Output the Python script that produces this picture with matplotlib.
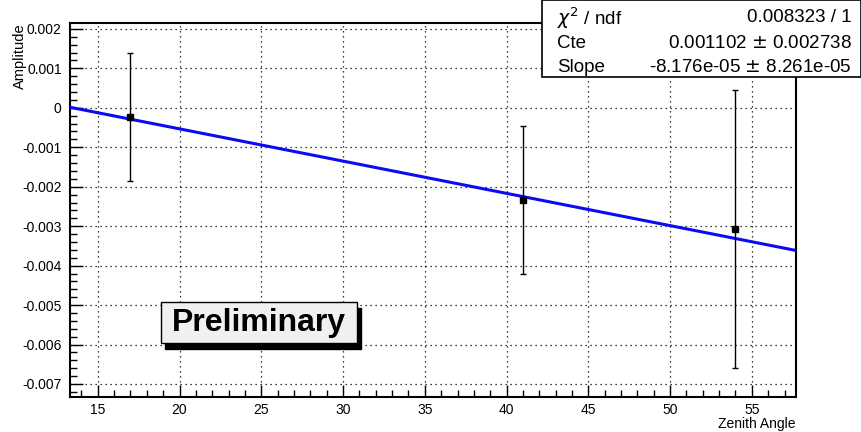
import numpy as np
import matplotlib.pyplot as plt
from matplotlib.patches import Rectangle
from matplotlib.ticker import MultipleLocator, FuncFormatter

plt.rcParams['font.family'] = ['Liberation Sans', 'DejaVu Sans']

# measured points
zenith = [17, 41, 54]
amplitude = [-0.00024, -0.00234, -0.00307]
amp_err = [0.00162, 0.00188, 0.00352]

# fit results
cte = 0.001102
cte_err = 0.002738
slope = -8.176e-05
slope_err = 8.261e-05
chi2 = 0.008323
ndf = 1

xmin, xmax = 13.3, 57.7

fig = plt.figure(figsize=(8.61, 4.32), dpi=100)
ax = fig.add_axes([70/861, 1-397/432, 726/861, 374/432])

xs = np.array([xmin, xmax])
ax.plot(xs, cte + slope*xs, color='#0a0af5', lw=2.2, zorder=3)
ax.errorbar(zenith, amplitude, yerr=amp_err, fmt='s', color='black', ms=4,
            elinewidth=1, capsize=2, capthick=1, zorder=4)

ax.set_xlim(xmin, xmax)
ax.set_ylim(-0.00733, 0.00215)
ax.xaxis.set_major_locator(MultipleLocator(5))
ax.xaxis.set_minor_locator(MultipleLocator(1))
ax.yaxis.set_major_locator(MultipleLocator(0.001))
ax.yaxis.set_minor_locator(MultipleLocator(0.0002))
ax.yaxis.set_major_formatter(FuncFormatter(lambda v, p: '0' if abs(v) < 1e-9 else '%g' % v))
ax.tick_params(which='both', direction='in', labelsize=10, top=False, right=False)
ax.tick_params(which='major', length=9, width=1)
ax.tick_params(which='minor', length=5, width=1)
ax.tick_params(axis='y', pad=6)
ax.tick_params(axis='x', pad=4)
ax.grid(True, which='major', color='black', linestyle=(0, (1, 3)), lw=0.9)
for s in ax.spines.values():
    s.set_linewidth(1.5)

fig.text(796/861, 1-428/432, 'Zenith Angle', ha='right', va='baseline', fontsize=10)
fig.text(20/861, 1-23/432, 'Amplitude', ha='center', va='top', rotation=90, fontsize=10.5)

# stats box
fig.patches.append(Rectangle((542/861, 1-77/432), 319/861, 77/432, transform=fig.transFigure,
                             facecolor='white', edgecolor='black', lw=1.2, zorder=5))
rows = [(r'$\chi^2$ / ndf', '%g / %d' % (chi2, ndf)),
        ('Cte', '%.6f $\\pm$ %.6f' % (cte, cte_err)),
        ('Slope', '%.3e $\\pm$ %.3e' % (slope, slope_err))]
ys = [18, 43, 67]
for (lab, val), yp in zip(rows, ys):
    fig.text(557/861, 1-yp/432, lab, ha='left', va='center', fontsize=13.5, zorder=6,
             math_fontfamily='dejavusans')
    fig.text(852/861, 1-yp/432, val, ha='right', va='center', fontsize=13.5, zorder=6,
             math_fontfamily='dejavusans')

# Preliminary label
fig.patches.append(Rectangle((165/861, 1-349/432), 196/861, 41/432, transform=fig.transFigure,
                             facecolor='black', edgecolor='black', zorder=5))
fig.patches.append(Rectangle((161/861, 1-343/432), 196/861, 41/432, transform=fig.transFigure,
                             facecolor='#f0f0f0', edgecolor='black', lw=1, zorder=6))
fig.text(259/861, 1-323/432, 'Preliminary', ha='center', va='center', fontsize=23,
         fontweight='bold', zorder=7)

fig.savefig('out.png', dpi=100)
